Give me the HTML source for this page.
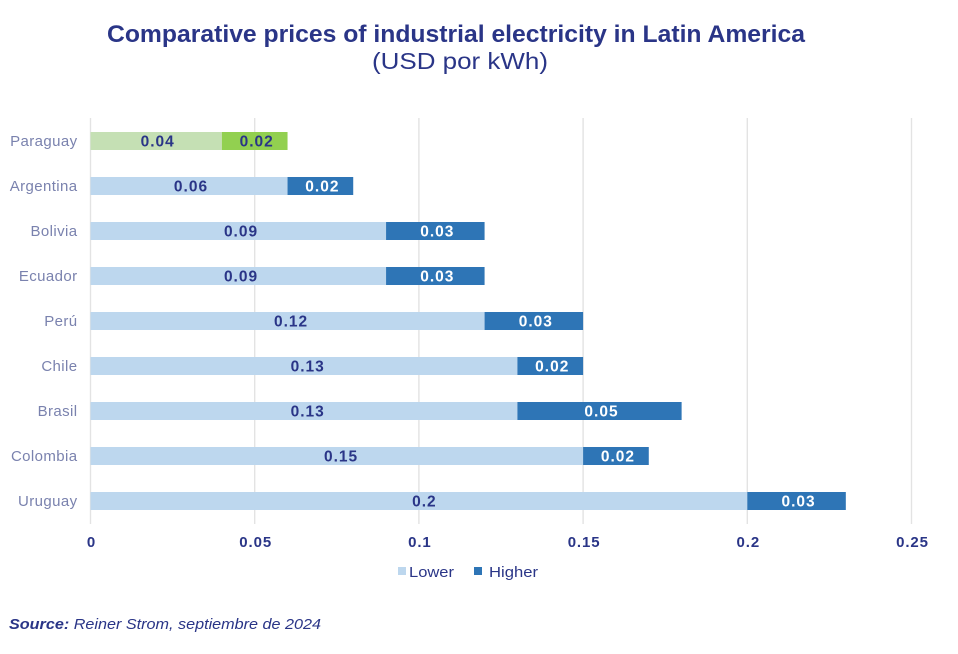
<!DOCTYPE html>
<html lang="en">
<head>
<meta charset="utf-8">
<title>Comparative prices of industrial electricity in Latin America</title>
<style>
html,body{margin:0;padding:0;background:#fff;width:958px;height:654px;overflow:hidden}
svg{display:block;font-family:"Liberation Sans",sans-serif}
</style>
</head>
<body>
<svg id="chart" width="958" height="654" viewBox="0 0 958 654" xmlns="http://www.w3.org/2000/svg">
  <text x="456" y="42" text-anchor="middle" font-size="24" font-weight="700" fill="#2a3587" textLength="698" lengthAdjust="spacingAndGlyphs">Comparative prices of industrial electricity in Latin America</text>
  <text x="460" y="69" text-anchor="middle" font-size="23" fill="#2a3587" textLength="176" lengthAdjust="spacingAndGlyphs">(USD por kWh)</text>
  <g id="grid"></g>
  <g id="bars"></g>
  <g id="cats"></g>
  <g id="ticks"></g>
  <g>
    <rect x="398" y="567" width="8" height="8" fill="#bdd7ee"/>
    <text x="409" y="577" font-size="15" fill="#2a3587" textLength="45" lengthAdjust="spacingAndGlyphs">Lower</text>
    <rect x="474" y="567" width="8" height="8" fill="#2e75b6"/>
    <text x="489" y="577" font-size="15" fill="#2a3587" textLength="49" lengthAdjust="spacingAndGlyphs">Higher</text>
  </g>
  <text x="9" y="629" font-size="15" font-style="italic" fill="#2a3587" textLength="312" lengthAdjust="spacingAndGlyphs"><tspan font-weight="700">Source:</tspan> Reiner Strom, septiembre de 2024</text>
</svg>
<script>
const countries = ['Paraguay','Argentina','Bolivia','Ecuador','Perú','Chile','Brasil','Colombia','Uruguay'];
const lower = [0.04,0.06,0.09,0.09,0.12,0.13,0.13,0.15,0.2];
const higher = [0.02,0.02,0.03,0.03,0.03,0.02,0.05,0.02,0.03];
const xTickValues = [0,0.05,0.1,0.15,0.2,0.25];

const NS = 'http://www.w3.org/2000/svg';
const x = v => 90.5 + v * 3284;
const y = i => 141 + i * 45;
const slug = s => s.toLowerCase().replace('ú','u');

function make(tag, attrs, parent, content) {
  const el = document.createElementNS(NS, tag);
  for (const k in attrs) el.setAttribute(k, attrs[k]);
  if (content !== undefined) el.textContent = content;
  parent.appendChild(el);
  return el;
}

const grid = document.getElementById('grid');
const bars = document.getElementById('bars');
const cats = document.getElementById('cats');
const ticks = document.getElementById('ticks');

xTickValues.forEach(t => {
  const line = make('line', {x1:x(t), x2:x(t), y1:118, y2:524, stroke:'#e3e3e3', 'stroke-width':1.4}, grid);
  
  
  const label = make('text', {x:x(t) + 1, y:547, 'text-anchor':'middle', 'font-size':15, 'font-weight':700, 'letter-spacing':0.9, fill:'#2a3587'}, ticks, String(t));
  
  
});

countries.forEach((c, i) => {
  const isGreen = c === 'Paraguay';
  const lowColor = isGreen ? '#c5e0b4' : '#bdd7ee';
  const highColor = isGreen ? '#92d050' : '#2e75b6';
  const highText = isGreen ? '#2a3587' : '#ffffff';
  const name = slug(c);

  const cat = make('text', {x:77.5, y:y(i) + 5, 'text-anchor':'end', 'font-size':15, 'letter-spacing':0.4, fill:'#7a82ae'}, cats, c);
  
  

  const lowBar = make('rect', {x:x(0), y:y(i) - 9, width:x(lower[i]) - x(0), height:18, fill:lowColor}, bars);
  
  

  const highBar = make('rect', {x:x(lower[i]), y:y(i) - 9, width:x(lower[i] + higher[i]) - x(lower[i]), height:18, fill:highColor}, bars);
  
  

  const lowLabel = make('text', {x:(x(0) + x(lower[i])) / 2 + lower[i] * 25 + 0.5, y:y(i) + 5.5, 'text-anchor':'middle', 'font-size':15.5, 'font-weight':700, 'letter-spacing':1, fill:'#2a3587'}, bars, String(lower[i]));
  
  

  const highLabel = make('text', {x:(x(lower[i]) + x(lower[i] + higher[i])) / 2 + 2, y:y(i) + 5.5, 'text-anchor':'middle', 'font-size':15.5, 'font-weight':700, 'letter-spacing':1, fill:highText}, bars, String(higher[i]));
  
  
});
</script>
</body>
</html>
